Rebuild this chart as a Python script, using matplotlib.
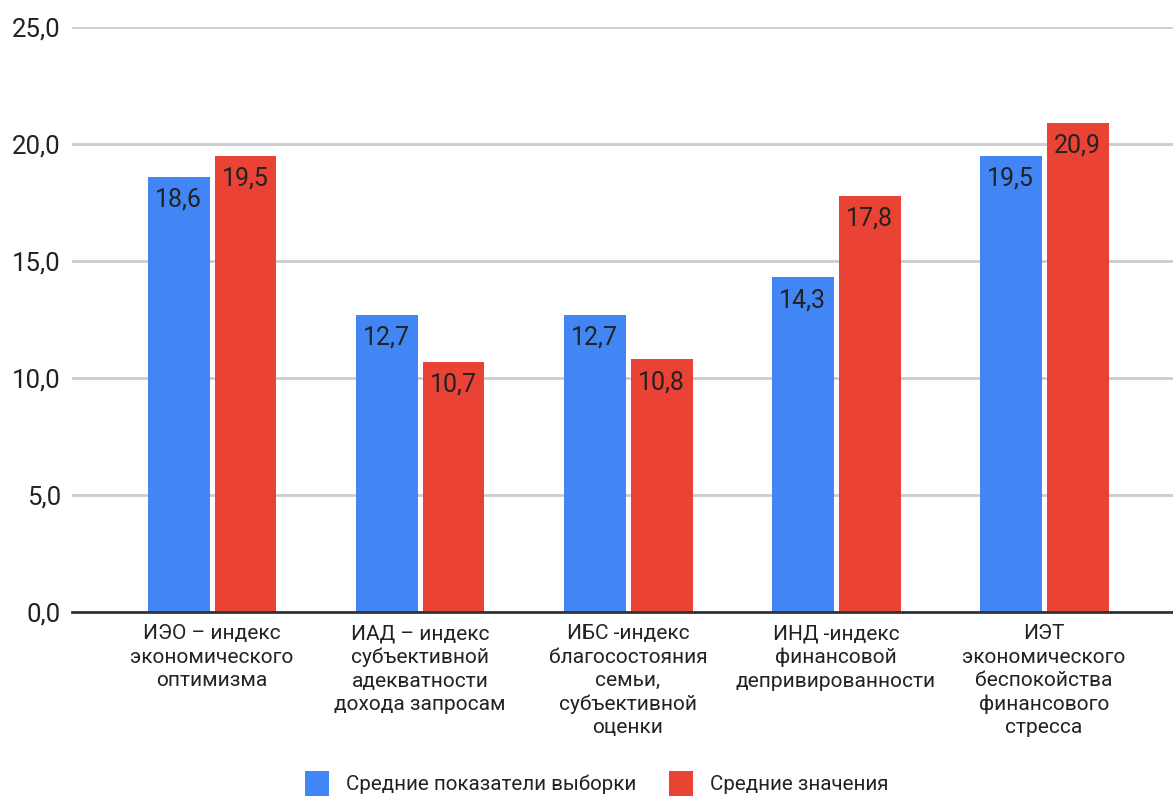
import matplotlib.pyplot as plt
import numpy as np

plt.rcParams['font.family'] = ['Roboto', 'DejaVu Sans']

categories = [
    "ИЭО – индекс\nэкономического\nоптимизма",
    "ИАД – индекс\nсубъективной\nадекватности\nдохода запросам",
    "ИБС -индекс\nблагосостояния\nсемьи,\nсубъективной\nоценки",
    "ИНД -индекс\nфинансовой\nдепривированности",
    "ИЭТ\nэкономического\nбеспокойства\nфинансового\nстресса",
]
sample_means = [18.6, 12.7, 12.7, 14.3, 19.5]
mean_values = [19.5, 10.7, 10.8, 17.8, 20.9]
series_names = ["Средние показатели выборки", "Средние значения"]
y_ticks = [0, 5, 10, 15, 20, 25]

blue = "#4285F4"
red = "#EA4335"
text_color = "#222222"

fig = plt.figure(figsize=(11.73, 7.96), dpi=100)
ax = fig.add_axes([0.0614, 0.2312, 0.9386, 0.7348])

x = np.arange(len(categories))
w = 0.298
gap = 0.024
b1 = ax.bar(x - (w + gap) / 2, sample_means, w, color=blue, label=series_names[0], zorder=3)
b2 = ax.bar(x + (w + gap) / 2, mean_values, w, color=red, label=series_names[1], zorder=3)

# value labels sit inside the top of each bar
for bars, vals in [(b1, sample_means), (b2, mean_values)]:
    for rect, v in zip(bars, vals):
        ax.annotate(f"{v:.1f}".replace(".", ","),
                    (rect.get_x() + rect.get_width() / 2, rect.get_height()),
                    xytext=(0, -16.5), textcoords="offset points",
                    ha="center", va="center", fontsize=18, color=text_color, zorder=4)

ax.set_xlim(-0.673, 4.62)
ax.set_ylim(0, 25)
ax.set_yticks(y_ticks)
ax.set_yticklabels([f"{t:.1f}".replace(".", ",") for t in y_ticks], fontsize=18.5, color=text_color)
ax.set_xticks(x)
ax.set_xticklabels(categories, fontsize=15, color=text_color, linespacing=1.28)
ax.tick_params(axis="both", length=0)
ax.tick_params(axis="y", pad=8)
ax.tick_params(axis="x", pad=9)

ax.grid(axis="y", color="#cccccc", linewidth=2, zorder=0)
for s in ["top", "right", "left"]:
    ax.spines[s].set_visible(False)
ax.spines["bottom"].set_color("#333333")
ax.spines["bottom"].set_linewidth(2)
ax.spines["bottom"].set_zorder(5)

fig.legend(handles=[b1, b2], loc="center", bbox_to_anchor=(0.509, 0.016), ncol=2,
           frameon=False, fontsize=14.8, handlelength=1.15, handleheight=1.5,
           handletextpad=0.85, columnspacing=1.6, labelcolor=text_color)

fig.savefig("out.png", dpi=100)
